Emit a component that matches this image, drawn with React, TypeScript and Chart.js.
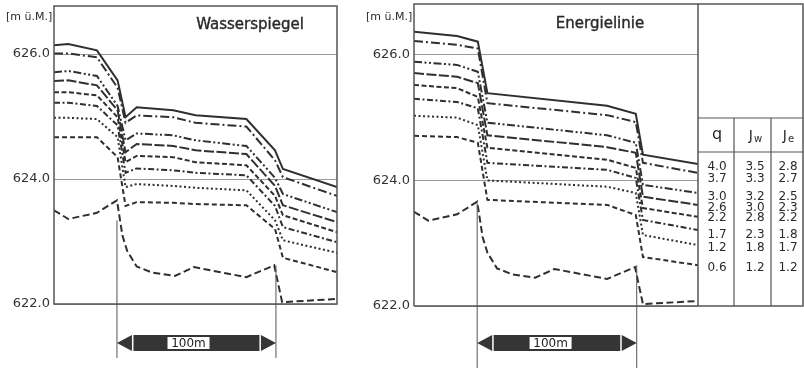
import React, { useEffect, useRef } from "react";
import { Chart, registerables } from "chart.js";

Chart.register(...registerables);

// ---------- data ----------
const Y_TICKS = [622, 624, 626];
const Q_VALUES = ["4.0", "3.7", "3.0", "2.6", "2.2", "1.7", "1.2", "0.6"];
const JW_VALUES = ["3.5", "3.3", "3.2", "3.0", "2.8", "2.3", "1.8", "1.2"];
const JE_VALUES = ["2.8", "2.7", "2.5", "2.3", "2.2", "1.8", "1.7", "1.2"];

// Wasserspiegel (water surface), x in m
const WS_X = [0, 9, 27, 40, 45, 52, 75, 89, 121, 139, 144, 178];
const WS_Q40 = [626.14, 626.16, 626.06, 625.58, 624.99, 625.15, 625.1, 625.02, 624.96, 624.46, 624.16, 623.87];
const WS_Q37 = [626.01, 626.01, 625.95, 625.46, 624.9, 625.02, 624.99, 624.9, 624.84, 624.3, 624.03, 623.73];
const WS_Q30 = [625.71, 625.73, 625.65, 625.17, 624.62, 624.73, 624.7, 624.62, 624.53, 624.02, 623.76, 623.47];
const WS_Q26 = [625.57, 625.58, 625.5, 625.1, 624.43, 624.56, 624.53, 624.46, 624.4, 623.89, 623.58, 623.31];
const WS_Q22 = [625.39, 625.39, 625.34, 624.99, 624.27, 624.37, 624.35, 624.27, 624.22, 623.73, 623.42, 623.15];
const WS_Q17 = [625.22, 625.22, 625.17, 624.86, 624.1, 624.17, 624.14, 624.1, 624.06, 623.57, 623.23, 622.99];
const WS_Q12 = [624.98, 624.98, 624.96, 624.67, 623.87, 623.92, 623.89, 623.86, 623.82, 623.34, 623.02, 622.82];
const WS_Q06 = [624.67, 624.67, 624.67, 624.35, 623.57, 623.63, 623.62, 623.6, 623.58, 623.2, 622.74, 622.51];

// Energielinie (energy line), x in m
const EL_X = [0, 27, 40, 46, 121, 139, 143.5, 178];
const EL_Q40 = [626.37, 626.3, 626.21, 625.39, 625.19, 625.06, 624.41, 624.26];
const EL_Q37 = [626.22, 626.16, 626.1, 625.23, 625.04, 624.93, 624.28, 624.12];
const EL_Q30 = [625.89, 625.84, 625.73, 624.92, 624.72, 624.6, 623.93, 623.8];
const EL_Q26 = [625.71, 625.65, 625.55, 624.72, 624.53, 624.44, 623.74, 623.61];
const EL_Q22 = [625.52, 625.47, 625.33, 624.52, 624.33, 624.2, 623.56, 623.42];
const EL_Q17 = [625.3, 625.25, 625.15, 624.28, 624.17, 624.04, 623.37, 623.21];
const EL_Q12 = [625.03, 625.0, 624.88, 624.0, 623.9, 623.8, 623.13, 622.97];
const EL_Q06 = [624.71, 624.69, 624.6, 623.69, 623.61, 623.45, 622.78, 622.65];

// channel bed
const BED_X = [0, 9, 27, 39.6, 43, 46, 52, 62, 76, 88, 121, 138.5, 143.5, 178];
const BED_Z = [623.5, 623.36, 623.46, 623.66, 623.1, 622.85, 622.6, 622.5, 622.45, 622.59, 622.43, 622.62, 622.03, 622.08];

const SCALE_START = 39.6;
const SCALE_LENGTH = 100;
const UNIT_LABEL = "[m ü.M.]";

// ---------- styles ----------
const LINE_COLOR = "#2f2f2f";
const DASHES: number[][] = [
  [],
  [9, 3, 2, 3],
  [8, 2.5, 2, 2.5, 2, 2.5],
  [10, 2.5],
  [5, 2.5],
  [6, 2.5, 2, 2.5],
  [2, 2.5],
  [5, 3],
];
const FONT = '"DejaVu Sans", sans-serif';

function toPts(xs: number[], ys: number[]) {
  return xs.map((x, i) => ({ x, y: ys[i] }));
}

function buildDatasets(xs: number[], series: number[][]) {
  const ds: any[] = series.map((s, i) => ({
    label: "q=" + Q_VALUES[i],
    data: toPts(xs, s),
    borderColor: LINE_COLOR,
    borderWidth: 2,
    borderDash: DASHES[i],
    pointRadius: 0,
    showLine: true,
    tension: 0,
    fill: false,
  }));
  ds.push({
    label: "Sohle",
    data: toPts(BED_X, BED_Z),
    borderColor: LINE_COLOR,
    borderWidth: 2,
    borderDash: [7, 3.5],
    pointRadius: 0,
    showLine: true,
    tension: 0,
    fill: false,
  });
  return ds;
}

interface PanelCfg {
  title: string;
  titleX: number;
  titleY: number;
  unitX: number;
  unitY: number;
  scaleTops: number[];
  barY: number;
  lineBottom: number;
  labelFrac: number;
  table: boolean;
}

function overlayPlugin(cfg: PanelCfg) {
  return {
    id: "overlay",
    afterDraw(chart: any) {
      const { ctx, chartArea: a, scales } = chart;
      const xs = scales.x;
      const ys = scales.y;
      ctx.save();
      // frame
      ctx.strokeStyle = "#555";
      ctx.lineWidth = 1.5;
      ctx.setLineDash([]);
      if (cfg.table) {
        ctx.beginPath();
        ctx.moveTo(a.left, a.bottom);
        ctx.lineTo(a.left, a.top);
        ctx.lineTo(chart.width - 1, a.top);
        ctx.lineTo(chart.width - 1, a.bottom);
        ctx.lineTo(a.left, a.bottom);
        ctx.moveTo(a.right, a.top);
        ctx.lineTo(a.right, a.bottom);
        ctx.stroke();
      } else {
        ctx.strokeRect(a.left, a.top, a.right - a.left, a.bottom - a.top);
      }
      // title
      ctx.fillStyle = "#2a2a2a";
      ctx.strokeStyle = "#2a2a2a";
      ctx.lineWidth = 0.4;
      ctx.font = "15px " + FONT;
      ctx.textAlign = "center";
      ctx.textBaseline = "middle";
      ctx.fillText(cfg.title, cfg.titleX, cfg.titleY);
      ctx.strokeText(cfg.title, cfg.titleX, cfg.titleY);
      // unit
      ctx.font = "11px " + FONT;
      ctx.textAlign = "left";
      ctx.fillText(UNIT_LABEL, cfg.unitX, cfg.unitY);

      // scale bar
      const x0 = xs.getPixelForValue(SCALE_START);
      const x1 = xs.getPixelForValue(SCALE_START + SCALE_LENGTH);
      ctx.strokeStyle = "#555";
      ctx.lineWidth = 1;
      ctx.beginPath();
      ctx.moveTo(x0, ys.getPixelForValue(cfg.scaleTops[0]));
      ctx.lineTo(x0, cfg.lineBottom);
      ctx.moveTo(x1, ys.getPixelForValue(cfg.scaleTops[1]));
      ctx.lineTo(x1, cfg.lineBottom);
      ctx.stroke();
      const by = cfg.barY;
      const h = 8;
      const head = 15;
      ctx.fillStyle = "#353535";
      ctx.beginPath();
      ctx.moveTo(x0, by);
      ctx.lineTo(x0 + head, by - h);
      ctx.lineTo(x0 + head, by + h);
      ctx.closePath();
      ctx.fill();
      ctx.beginPath();
      ctx.moveTo(x1, by);
      ctx.lineTo(x1 - head, by - h);
      ctx.lineTo(x1 - head, by + h);
      ctx.closePath();
      ctx.fill();
      ctx.fillRect(x0 + head + 1.5, by - h, x1 - x0 - 2 * head - 3, 2 * h);
      const mid = x0 + (x1 - x0) * cfg.labelFrac;
      ctx.fillStyle = "#fff";
      ctx.fillRect(mid - 21, by - 6, 42, 12);
      ctx.fillStyle = "#222";
      ctx.font = "12px " + FONT;
      ctx.textAlign = "center";
      ctx.fillText("100m", mid, by + 0.5);

      // table
      if (cfg.table) {
        const tl = a.right;
        const tr = chart.width - 1;
        const c1 = tl + 36;
        const c2 = tl + 73;
        ctx.strokeStyle = "#555";
        ctx.lineWidth = 1.2;
        ctx.beginPath();
        ctx.moveTo(tl, 118);
        ctx.lineTo(tr, 118);
        ctx.moveTo(tl, 152);
        ctx.lineTo(tr, 152);
        ctx.moveTo(c1, 118);
        ctx.lineTo(c1, a.bottom);
        ctx.moveTo(c2, 118);
        ctx.lineTo(c2, a.bottom);
        ctx.stroke();
        ctx.fillStyle = "#2a2a2a";
        ctx.textAlign = "center";
        ctx.textBaseline = "middle";
        ctx.font = "16px " + FONT;
        const cx0 = tl + 19;
        const cx1 = tl + 56;
        const cx2 = tl + 90;
        ctx.fillText("q", cx0, 135);
        ctx.font = "14px " + FONT;
        ctx.textAlign = "right";
        ctx.fillText("J", cx1 - 1, 136);
        ctx.fillText("J", cx2 - 1, 136);
        ctx.font = "10px " + FONT;
        ctx.textAlign = "left";
        ctx.fillText("w", cx1, 139);
        ctx.fillText("e", cx2, 139);
        ctx.font = "12px " + FONT;
        ctx.textAlign = "center";
        const rows = [167, 179, 197, 207.5, 217.5, 235, 248, 268];
        rows.forEach((ry, i) => {
          ctx.fillText(Q_VALUES[i], cx0, ry);
          ctx.fillText(JW_VALUES[i], cx1 + 1, ry);
          ctx.fillText(JE_VALUES[i], cx2, ry);
        });
      }
      ctx.restore();
    },
  };
}

function makeChart(
  canvas: HTMLCanvasElement,
  datasets: any[],
  yMax: number,
  pad: { top: number; right: number; bottom: number },
  cfg: PanelCfg
) {
  return new Chart(canvas, {
    type: "scatter",
    data: { datasets },
    options: {
      responsive: false,
      animation: false,
      events: [],
      layout: { padding: { left: 0, top: pad.top, right: pad.right, bottom: pad.bottom } },
      plugins: { legend: { display: false }, tooltip: { enabled: false } },
      scales: {
        x: { type: "linear", min: 0, max: 178, display: false },
        y: {
          type: "linear",
          min: 622,
          max: yMax,
          afterBuildTicks: (scale: any) => {
            scale.ticks = Y_TICKS.map((v) => ({ value: v }));
          },
          afterFit: (scale: any) => {
            scale.width = 54;
            scale.paddingTop = 0;
            scale.paddingBottom = 0;
          },
          ticks: {
            padding: 4,
            color: "#333",
            font: { family: "DejaVu Sans", size: 13 },
            callback: (v: any) => Number(v).toFixed(1),
          },
          grid: { color: "#9a9a9a", lineWidth: 1, drawTicks: false },
          border: { display: false },
        },
      },
    },
    plugins: [overlayPlugin(cfg)],
  } as any);
}

export default function App() {
  const leftRef = useRef<HTMLCanvasElement>(null);
  const rightRef = useRef<HTMLCanvasElement>(null);

  useEffect(() => {
    const left = makeChart(
      leftRef.current!,
      buildDatasets(WS_X, [WS_Q40, WS_Q37, WS_Q30, WS_Q26, WS_Q22, WS_Q17, WS_Q12, WS_Q06]),
      626.77,
      { top: 6, right: 350 - 337, bottom: 368 - 304 },
      {
        title: "Wasserspiegel",
        titleX: 250,
        titleY: 25,
        unitX: 6,
        unitY: 17,
        scaleTops: [623.34, 622.62],
        barY: 343,
        lineBottom: 358,
        labelFrac: 0.45,
        table: false,
      }
    );
    const right = makeChart(
      rightRef.current!,
      buildDatasets(EL_X, [EL_Q40, EL_Q37, EL_Q30, EL_Q26, EL_Q22, EL_Q17, EL_Q12, EL_Q06]),
      626.81,
      { top: 4, right: 444 - 338, bottom: 368 - 306 },
      {
        title: "Energielinie",
        titleX: 240,
        titleY: 24,
        unitX: 6,
        unitY: 17,
        scaleTops: [623.64, 622.65],
        barY: 343,
        lineBottom: 368,
        labelFrac: 0.46,
        table: true,
      }
    );
    return () => {
      left.destroy();
      right.destroy();
    };
  }, []);

  return (
    <div
      style={{
        position: "absolute",
        left: 0,
        top: 0,
        width: 804,
        height: 368,
        background: "#fff",
        overflow: "hidden",
      }}
    >
      <canvas
        ref={leftRef}
        width={350}
        height={368}
        style={{ position: "absolute", left: 0, top: 0, width: 350, height: 368 }}
      />
      <canvas
        ref={rightRef}
        width={444}
        height={368}
        style={{ position: "absolute", left: 360, top: 0, width: 444, height: 368 }}
      />
    </div>
  );
}
